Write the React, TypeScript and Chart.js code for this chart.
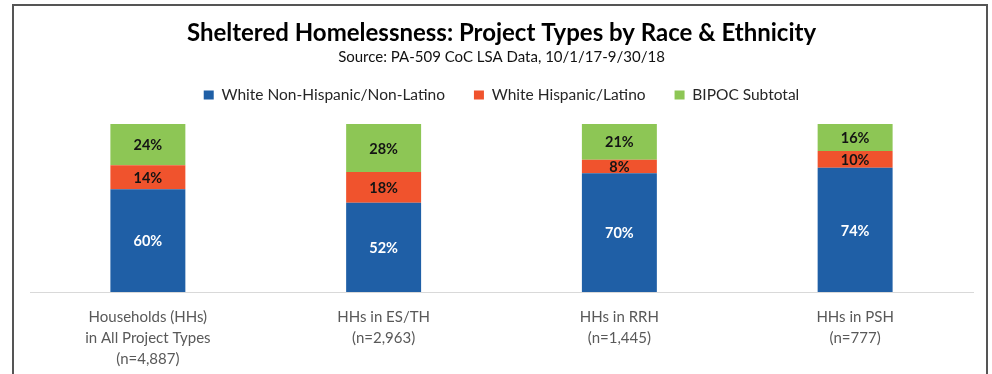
import React, { useEffect, useRef } from 'react';
import { Chart, registerables } from 'chart.js';

Chart.register(...registerables);

// ---- data ----
const categories: string[][] = [
  ['Households (HHs)', 'in All Project Types', '(n=4,887)'],
  ['HHs in ES/TH', '(n=2,963)'],
  ['HHs in RRH', '(n=1,445)'],
  ['HHs in PSH', '(n=777)'],
];
const seriesNames = ['White Non-Hispanic/Non-Latino', 'White Hispanic/Latino', 'BIPOC Subtotal'];
const whiteNonHispanic = [60, 52, 70, 74];
const whiteHispanic = [14, 18, 8, 10];
const bipocSubtotal = [24, 28, 21, 16];
const titleText = 'Sheltered Homelessness: Project Types by Race & Ethnicity';
const subtitleText = 'Source: PA-509 CoC LSA Data, 10/1/17-9/30/18';

// ---- styles ----
const seriesColors = ['#1F5FA6', '#F0532D', '#8DC655'];
const labelColors = ['#ffffff', '#141414', '#141414'];
const FONT = 'Lato, Calibri, "Open Sans", sans-serif';

const seriesValues = [whiteNonHispanic, whiteHispanic, bipocSubtotal];
const totals = categories.map((_, i) => seriesValues.reduce((s, arr) => s + arr[i], 0));

const legendSpacer = {
  id: 'legendSpacer',
  beforeInit(chart: any) {
    const legend = chart.legend;
    if (!legend || legend.__patched) return;
    const orig = legend.fit;
    legend.fit = function () {
      orig.call(this);
      this.height = 65.75;
    };
    legend.__patched = true;
  },
};

const barLabels = {
  id: 'barLabels',
  afterDatasetsDraw(chart: any) {
    const ctx = chart.ctx;
    ctx.save();
    ctx.font = `bold 14.5px ${FONT}`;
    ctx.textAlign = 'center';
    ctx.textBaseline = 'middle';
    chart.data.datasets.forEach((_ds: any, di: number) => {
      const meta = chart.getDatasetMeta(di);
      meta.data.forEach((el: any, i: number) => {
        const { x, y, base } = el.getProps(['x', 'y', 'base'], true);
        ctx.fillStyle = labelColors[di];
        ctx.fillText(`${seriesValues[di][i]}%`, x, (y + base) / 2 + 1);
      });
    });
    ctx.restore();
  },
};

export default function App() {
  const ref = useRef<HTMLCanvasElement | null>(null);

  useEffect(() => {
    if (!ref.current) return;
    const chart = new Chart(ref.current, {
      type: 'bar',
      data: {
        labels: categories,
        datasets: seriesValues.map((vals, di) => ({
          label: seriesNames[di],
          data: vals.map((v, i) => (v / totals[i]) * 100),
          backgroundColor: seriesColors[di],
          borderWidth: 0,
          categoryPercentage: 1,
          barPercentage: 0.318,
        })),
      },
      options: {
        animation: false,
        responsive: false,
        devicePixelRatio: 1,
        layout: { padding: { left: 30, right: 19, top: 0, bottom: 0 } },
        plugins: {
          title: {
            display: true,
            text: titleText,
            color: '#000',
            font: { family: FONT, size: 24, weight: 'bold', lineHeight: 1.2 },
            padding: { top: 18.6, bottom: 0 },
          },
          subtitle: {
            display: true,
            text: subtitleText,
            color: '#111',
            font: { family: FONT, size: 15, lineHeight: 1.2 },
            padding: { top: 0.6, bottom: -7.75 },
          },
          legend: {
            display: true,
            position: 'top',
            labels: {
              boxWidth: 10,
              boxHeight: 9,
              padding: 29,
              color: '#262626',
              font: { family: FONT, size: 15.5 },
            },
          },
          tooltip: { enabled: false },
        },
        scales: {
          x: {
            stacked: true,
            grid: { display: false, drawTicks: false },
            border: { display: true, color: '#d9d9d9', width: 1 },
            ticks: {
              color: '#595959',
              padding: 14,
              font: { family: FONT, size: 15, lineHeight: 1.43 },
            },
            afterFit: (scale: any) => {
              scale.height = 82;
            },
          },
          y: {
            stacked: true,
            display: false,
            min: 0,
            max: 100,
          },
        },
      },
      plugins: [legendSpacer, barLabels],
    });
    return () => chart.destroy();
  }, []);

  return (
    <div
      style={{
        position: 'fixed',
        left: 0,
        top: 0,
        width: 992,
        height: 374,
        overflow: 'hidden',
        background: '#fff',
      }}
    >
      <div
        style={{
          position: 'absolute',
          left: 12,
          top: 4,
          width: 976,
          height: 420,
          boxSizing: 'border-box',
          border: '2px solid #555',
        }}
      />
      <canvas
        ref={ref}
        width={992}
        height={374}
        style={{ position: 'absolute', left: 0, top: 0, width: 992, height: 374 }}
      />
    </div>
  );
}
